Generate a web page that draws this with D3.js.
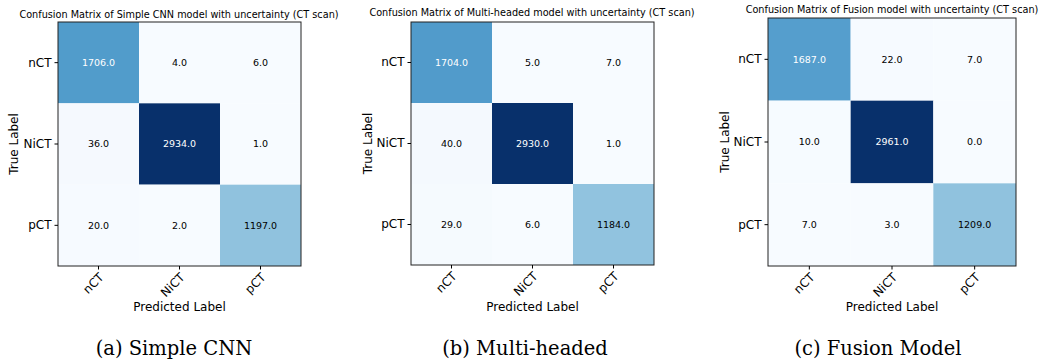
<!DOCTYPE html>
<html>
<head>
<meta charset="utf-8">
<script src="https://cdn.jsdelivr.net/npm/d3@7"></script>
<style>
  body { margin: 0; background: #fff; }
  text { font-family: "DejaVu Sans", sans-serif; }
</style>
</head>
<body>
<script>
// class labels shared by all three matrices
var labels = ["nCT", "NiCT", "pCT"];

// confusion matrices (rows = true, cols = predicted)
var cnnMatrix = [[1706, 4, 6], [36, 2934, 1], [20, 2, 1197]];
var multiMatrix = [[1704, 5, 7], [40, 2930, 1], [29, 6, 1184]];
var fusionMatrix = [[1687, 22, 7], [10, 2961, 0], [7, 3, 1209]];

var titles = [
  "Confusion Matrix of Simple CNN model with uncertainty (CT scan)",
  "Confusion Matrix of Multi-headed model with uncertainty (CT scan)",
  "Confusion Matrix of Fusion model with uncertainty (CT scan)"
];
var captions = ["(a) Simple CNN", "(b) Multi-headed", "(c) Fusion Model"];

// where each panel sits on the page
var layout = [
  {x: 58, y: 22, w: 243, h: 244, tx: 179, ty: 18, ly: 18, cx: 174},
  {x: 411, y: 22, w: 243, h: 243, tx: 532, ty: 16, ly: 372, cx: 525},
  {x: 768, y: 18, w: 248, h: 248, tx: 892, ty: 13, ly: 729, cx: 878}
];

var matrices = [cnnMatrix, multiMatrix, fusionMatrix];

var svg = d3.select("body").append("svg")
    .attr("width", 1040)
    .attr("height", 362);

matrices.forEach(function (m, p) {
  var L = layout[p];
  var max = d3.max(m, function (r) { return d3.max(r); });
  var color = d3.scaleSequential(d3.interpolateBlues).domain([0, max]);
  var fmt = d3.format(".1f");

  var x = d3.scaleBand().domain(labels).range([L.x, L.x + L.w]);
  var y = d3.scaleBand().domain(labels).range([L.y, L.y + L.h]);

  var g = svg.append("g");

  var cells = [];
  m.forEach(function (row, i) {
    row.forEach(function (v, j) {
      cells.push({r: labels[i], c: labels[j], v: v});
    });
  });

  g.selectAll("rect.cell").data(cells).enter().append("rect")
    .attr("class", "cell")
    .attr("x", function (d) { return x(d.c); })
    .attr("y", function (d) { return y(d.r); })
    .attr("width", x.bandwidth())
    .attr("height", y.bandwidth())
    .attr("fill", function (d) { return color(d.v); });

  g.selectAll("text.val").data(cells).enter().append("text")
    .attr("class", "val")
    .attr("x", function (d) { return x(d.c) + x.bandwidth() / 2; })
    .attr("y", function (d) { return y(d.r) + y.bandwidth() / 2; })
    .attr("dy", "0.35em")
    .attr("text-anchor", "middle")
    .attr("font-size", "9.5px")
    .attr("fill", function (d) { return d.v > max / 2 ? "#fff" : "#000"; })
    .text(function (d) { return fmt(d.v); });

  // frame
  g.append("rect")
    .attr("x", L.x).attr("y", L.y)
    .attr("width", L.w).attr("height", L.h)
    .attr("fill", "none")
    .attr("stroke", "#222")
    .attr("stroke-width", 1);

  // y axis
  var ya = g.append("g")
    .attr("transform", "translate(" + L.x + ",0)")
    .call(d3.axisLeft(y).tickSize(3.5).tickPadding(3));
  ya.select(".domain").remove();
  ya.selectAll("text").attr("font-size", "12px").attr("font-family", "DejaVu Sans");

  // x axis
  var xa = g.append("g")
    .attr("transform", "translate(0," + (L.y + L.h) + ")")
    .call(d3.axisBottom(x).tickSize(3.5).tickPadding(3));
  xa.select(".domain").remove();
  xa.selectAll("text")
    .attr("font-size", "12px")
    .attr("font-family", "DejaVu Sans")
    .attr("text-anchor", "end")
    .attr("dy", null)
    .attr("y", null)
    .attr("transform", "translate(6,12) rotate(-45)");

  g.append("text")
    .attr("x", L.tx).attr("y", L.ty)
    .attr("text-anchor", "middle")
    .attr("font-size", "9.7px")
    .text(titles[p]);

  g.append("text")
    .attr("x", L.x + L.w / 2).attr("y", 311)
    .attr("text-anchor", "middle")
    .attr("font-size", "12px")
    .text("Predicted Label");

  g.append("text")
    .attr("transform", "translate(" + L.ly + "," + (L.y + L.h / 2) + ") rotate(-90)")
    .attr("text-anchor", "middle")
    .attr("font-size", "12px")
    .text("True Label");

  svg.append("text")
    .attr("x", L.cx).attr("y", 355)
    .attr("text-anchor", "middle")
    .style("font-family", "'DejaVu Serif', serif")
    .attr("font-size", "19.5px")
    .text(captions[p]);
});
</script>
</body>
</html>
